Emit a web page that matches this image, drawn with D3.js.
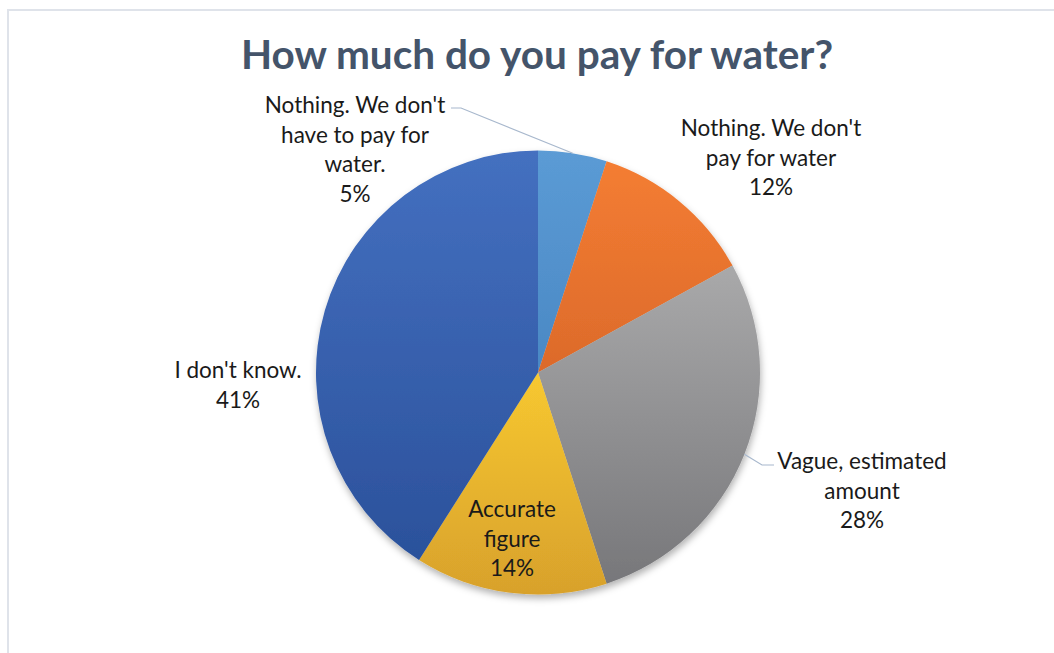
<!DOCTYPE html>
<html>
<head>
<meta charset="utf-8">
<script src="https://cdn.jsdelivr.net/npm/d3@7"></script>
<style>
  html, body { margin: 0; padding: 0; background: #ffffff; }
  svg { display: block; }
</style>
</head>
<body>
<svg id="chart" width="1054" height="653"></svg>
<script>
// Survey answers, clockwise from 12 o'clock
const categories = [
  "Nothing. We don't have to pay for water.",
  "Nothing. We don't pay for water",
  "Vague, estimated amount",
  "Accurate figure",
  "I don't know."
];
const values = [5, 12, 28, 14, 41];
const labelLines = [
  ["Nothing. We don't", "have to pay for", "water."],
  ["Nothing. We don't", "pay for water"],
  ["Vague, estimated", "amount"],
  ["Accurate", "figure"],
  ["I don't know."]
];
const colorTop    = ["#5b9bd5", "#f47d32", "#a9a9aa", "#f7c830", "#4470c0"];
const colorBottom = ["#4a88c4", "#dc6a2b", "#77777a", "#d8a12c", "#2b519b"];

// Label anchor (center x, first-line center y) and leader usage
const labelPos = [
  { x: 355, y: 104, leader: true },
  { x: 771, y: 127, leader: false },
  { x: 862, y: 460, leader: true },
  { x: 512, y: 508, leader: false },
  { x: 238, y: 369, leader: false }
];

const W = 1054, H = 653;
const cx = 538, cy = 372.5, R = 222;
const lineH = 29.5;

const svg = d3.select("#chart");
const defs = svg.append("defs");

// Soft shadow under the pie
const shadow = defs.append("filter").attr("id", "pieShadow")
  .attr("x", "-10%").attr("y", "-10%").attr("width", "120%").attr("height", "125%");
shadow.append("feDropShadow")
  .attr("dx", 1).attr("dy", 4).attr("stdDeviation", 3.5)
  .attr("flood-color", "#000").attr("flood-opacity", 0.3);

values.forEach((v, i) => {
  const g = defs.append("linearGradient").attr("id", "grad" + i)
    .attr("x1", 0).attr("y1", 0).attr("x2", 0).attr("y2", 1);
  g.append("stop").attr("offset", "0%").attr("stop-color", colorTop[i]);
  g.append("stop").attr("offset", "100%").attr("stop-color", colorBottom[i]);
});

// Chart frame
svg.append("rect")
  .attr("x", 8).attr("y", 10).attr("width", W + 20).attr("height", H + 20)
  .attr("fill", "#ffffff").attr("stroke", "#dfe3ea").attr("stroke-width", 2);

// Title
svg.append("text")
  .attr("x", 537).attr("y", 69)
  .attr("text-anchor", "middle")
  .attr("font-family", "Lato, 'Open Sans', sans-serif")
  .attr("font-weight", "bold")
  .attr("font-size", 40.5)
  .attr("fill", "#44546a")
  .text("How much do you pay for water?");

const pie = d3.pie().sort(null).value(d => d);
const arcs = pie(values);
const arc = d3.arc().innerRadius(0).outerRadius(R);

const gPie = svg.append("g")
  .attr("transform", `translate(${cx},${cy})`)
  .attr("filter", "url(#pieShadow)");

gPie.selectAll("path").data(arcs).join("path")
  .attr("d", arc)
  .attr("fill", (d, i) => `url(#grad${i})`);

// Leader lines from the slice edge to the label
const gLead = svg.append("g");
arcs.forEach((a, i) => {
  const p = labelPos[i];
  if (!p.leader) return;
  const mid = (a.startAngle + a.endAngle) / 2;
  const ex = cx + R * Math.sin(mid), ey = cy - R * Math.cos(mid);
  let pts;
  if (i === 0) {
    pts = [[ex, ey], [461, 108], [451, 108]];
  } else {
    pts = [[ex, ey], [762, 465], [774, 465]];
  }
  gLead.append("polyline")
    .attr("points", pts.map(q => q.join(",")).join(" "))
    .attr("fill", "none").attr("stroke", "#a8b8cd").attr("stroke-width", 1.2);
});

// Data labels: category name lines followed by percentage
const gLab = svg.append("g")
  .attr("font-family", "Lato, 'Open Sans', sans-serif")
  .attr("font-size", 22.5)
  .attr("fill", "#1a1a1a")
  .attr("text-anchor", "middle");

arcs.forEach((a, i) => {
  const p = labelPos[i];
  const lines = labelLines[i].concat([values[i] + "%"]);
  const t = gLab.append("text").attr("x", p.x).attr("y", p.y).attr("dominant-baseline", "central");
  lines.forEach((ln, k) => {
    t.append("tspan").attr("x", p.x).attr("y", p.y + k * lineH).attr("dominant-baseline", "central").text(ln);
  });
});
</script>
</body>
</html>
